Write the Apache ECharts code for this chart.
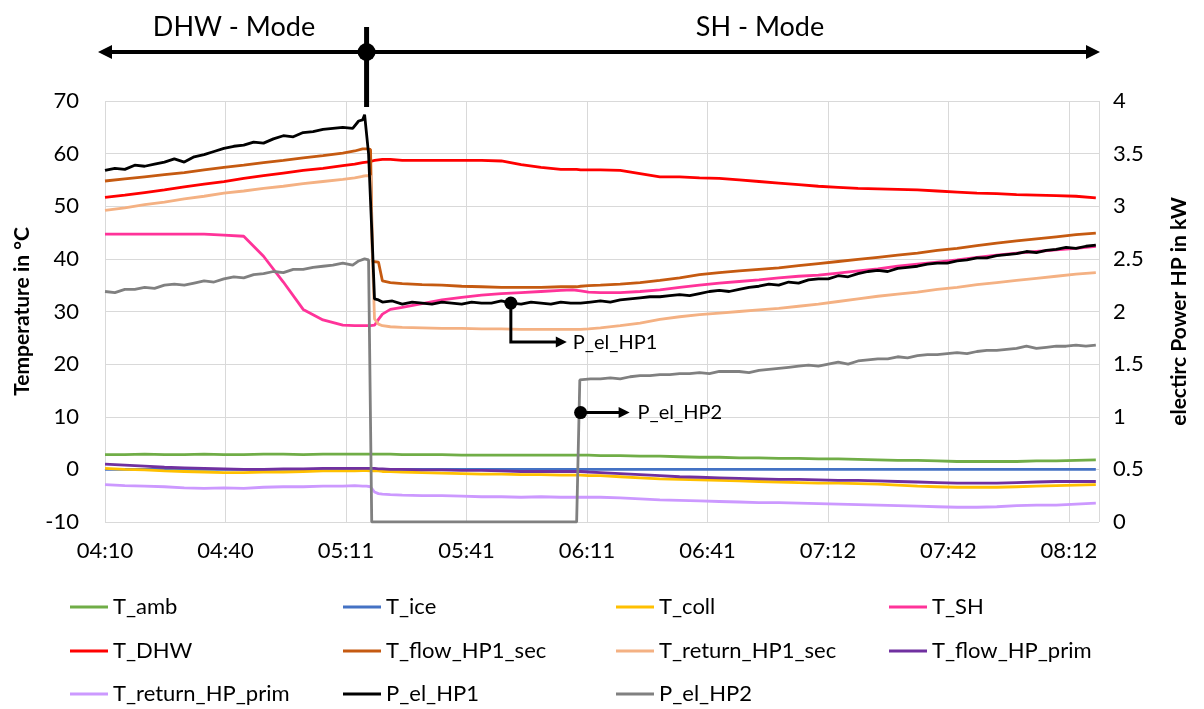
<!DOCTYPE html>
<html>
<head>
<meta charset="utf-8">
<script src="https://cdn.jsdelivr.net/npm/echarts@6/dist/echarts.min.js"></script>
<style>
html,body{margin:0;padding:0;background:#fff;}
#main{width:1204px;height:709px;}
</style>
</head>
<body>
<div id="main"></div>
<script>
// ---------- DATA (minutes after 04:10) ----------
const xTickLabels = ['04:10','04:40','05:11','05:41','06:11','06:41','07:12','07:42','08:12'];
const tickStep = 30.4;          // minutes between labelled ticks
const xMax = 250.8;             // end of recording (min)
const switchTime = 66;          // DHW -> SH mode switch (min)

const times = [0,5,10,15,20,25,30,35,40,45,50,55,60,63,65,66,67,67.5,68,69,70,72,75,80,85,90,95,100,105,110,115,118,119,120,122,125,130,135,140,145,150,155,160,165,170,175,180,185,190,195,200,205,210,215,220,225,230,235,240,245,250];

const T_amb = [2.8,2.8,2.9,2.8,2.8,2.9,2.8,2.8,2.9,2.9,2.8,2.9,2.9,2.9,2.9,2.9,2.9,2.9,2.9,2.9,2.9,2.9,2.8,2.8,2.8,2.7,2.7,2.7,2.7,2.7,2.7,2.7,2.7,2.7,2.7,2.6,2.6,2.5,2.5,2.4,2.3,2.3,2.2,2.2,2.1,2.1,2.0,2.0,1.9,1.8,1.7,1.7,1.6,1.5,1.5,1.5,1.5,1.6,1.6,1.7,1.8];
const T_ice = [0,0,0,0,0,0,0,0,0,0,0,0,0,0,0,0,0,0,0,0,0,0,0,0,0,0,0,0,0,0,0,0,0,0,0,0,0,0,0,0,0,0,0,0,0,0,0,0,0,0,0,0,0,0,0,0,0,0,0,0,0];
const T_coll = [0.2,0.0,-0.1,-0.3,-0.4,-0.5,-0.6,-0.6,-0.5,-0.5,-0.4,-0.3,-0.3,-0.3,-0.25,-0.25,-0.3,-0.3,-0.3,-0.3,-0.4,-0.4,-0.5,-0.6,-0.7,-0.8,-0.9,-0.9,-1.0,-1.0,-1.1,-1.1,-1.1,-1.1,-1.2,-1.2,-1.4,-1.6,-1.8,-1.9,-2.0,-2.1,-2.2,-2.3,-2.4,-2.5,-2.6,-2.6,-2.7,-2.8,-3.0,-3.2,-3.3,-3.4,-3.4,-3.4,-3.3,-3.2,-3.1,-3.0,-2.9];
const T_SH = [44.7,44.7,44.7,44.7,44.7,44.7,44.5,44.3,40.5,35.6,30.4,28.4,27.4,27.3,27.3,27.3,27.3,27.3,27.4,28.5,29.5,30.4,30.8,31.5,32.2,32.7,33.1,33.4,33.6,33.8,34.0,34.1,34.0,33.9,33.7,33.6,33.6,33.8,34.1,34.6,35.0,35.4,35.7,36.0,36.4,36.7,36.9,37.3,37.7,38.1,38.6,39.0,39.4,39.8,40.3,40.7,41.1,41.4,41.7,42.0,42.4];
const T_DHW = [51.7,52.1,52.6,53.1,53.7,54.2,54.7,55.3,55.8,56.3,56.8,57.2,57.7,58.0,58.3,58.4,58.5,58.6,58.7,58.8,58.9,58.9,58.7,58.7,58.7,58.7,58.7,58.6,57.9,57.4,57.0,57.0,57.0,56.9,56.9,56.9,56.8,56.2,55.6,55.6,55.4,55.3,55.0,54.7,54.4,54.1,53.8,53.6,53.4,53.3,53.2,53.1,52.9,52.7,52.5,52.4,52.2,52.1,52.0,51.9,51.6];
const T_flow_HP1_sec = [54.8,55.2,55.6,56.0,56.4,56.9,57.4,57.8,58.3,58.7,59.2,59.6,60.1,60.5,60.9,60.9,60.8,39.5,39.5,39.4,35.8,35.5,35.3,35.1,35.0,34.8,34.7,34.6,34.6,34.6,34.7,34.7,34.7,34.8,34.9,35.0,35.2,35.5,35.9,36.4,37.0,37.4,37.7,38.0,38.3,38.7,39.1,39.5,39.9,40.3,40.7,41.1,41.6,42.0,42.5,43.0,43.4,43.8,44.2,44.6,44.9];
const T_return_HP1_sec = [49.2,49.7,50.3,50.8,51.4,51.9,52.5,52.9,53.4,53.8,54.3,54.7,55.1,55.4,55.7,55.8,55.8,40.0,28.6,27.6,27.3,27.1,27.0,26.9,26.8,26.8,26.7,26.7,26.6,26.6,26.6,26.6,26.6,26.6,26.7,26.9,27.3,27.8,28.5,29.0,29.4,29.7,30.0,30.3,30.6,31.0,31.4,31.9,32.4,32.9,33.3,33.7,34.2,34.6,35.1,35.5,35.9,36.3,36.7,37.1,37.4];
const T_flow_HP_prim = [1.0,0.8,0.6,0.4,0.3,0.2,0.1,0.0,0.0,0.1,0.1,0.2,0.2,0.2,0.2,0.2,0.2,0.2,0.2,0.1,0.1,0.0,0.0,-0.1,-0.1,-0.2,-0.2,-0.3,-0.4,-0.4,-0.4,-0.4,-0.4,-0.4,-0.5,-0.6,-0.8,-1.0,-1.2,-1.4,-1.5,-1.6,-1.7,-1.8,-1.9,-1.9,-2.0,-2.1,-2.1,-2.2,-2.3,-2.4,-2.5,-2.6,-2.6,-2.6,-2.5,-2.4,-2.3,-2.3,-2.3];
const T_return_HP_prim = [-2.9,-3.1,-3.2,-3.3,-3.5,-3.6,-3.5,-3.6,-3.4,-3.3,-3.3,-3.2,-3.2,-3.1,-3.2,-3.2,-3.3,-3.5,-4.3,-4.6,-4.7,-4.8,-4.9,-5.0,-5.0,-5.1,-5.2,-5.2,-5.3,-5.2,-5.3,-5.3,-5.3,-5.3,-5.3,-5.3,-5.4,-5.6,-5.8,-5.9,-6.0,-6.1,-6.2,-6.3,-6.3,-6.4,-6.5,-6.6,-6.7,-6.8,-6.9,-7.0,-7.1,-7.2,-7.2,-7.1,-6.9,-6.8,-6.8,-6.6,-6.4];

const timesHP1 = [0,2.5,5,7.5,10,12.5,15,17.5,20,22.5,25,27.5,30,32.5,35,37.5,40,42.5,45,47.5,50,52.5,55,57.5,60,62.5,64,65,65.5,66,66.5,67,67.5,68,69,70,72.5,75,77.5,80,82.5,85,87.5,90,92.5,95,97.5,100,102.5,105,107.5,110,112.5,115,117.5,120,122.5,125,127.5,130,132.5,135,137.5,140,142.5,145,147.5,150,152.5,155,157.5,160,162.5,165,167.5,170,172.5,175,177.5,180,182.5,185,187.5,190,192.5,195,197.5,200,202.5,205,207.5,210,212.5,215,217.5,220,222.5,225,227.5,230,232.5,235,237.5,240,242.5,245,247.5,250];
const P_el_HP1 = [3.34,3.36,3.35,3.39,3.38,3.40,3.42,3.45,3.42,3.47,3.49,3.52,3.55,3.57,3.58,3.61,3.60,3.64,3.67,3.66,3.70,3.71,3.73,3.74,3.75,3.74,3.81,3.82,3.87,3.86,3.50,3.05,2.60,2.12,2.11,2.09,2.10,2.07,2.09,2.08,2.07,2.09,2.08,2.07,2.09,2.08,2.08,2.10,2.08,2.07,2.09,2.08,2.07,2.09,2.08,2.08,2.09,2.10,2.09,2.11,2.12,2.13,2.14,2.14,2.15,2.16,2.15,2.17,2.19,2.20,2.19,2.21,2.23,2.24,2.26,2.25,2.28,2.27,2.30,2.31,2.31,2.34,2.33,2.36,2.38,2.39,2.38,2.41,2.42,2.43,2.45,2.46,2.46,2.48,2.49,2.51,2.51,2.53,2.54,2.55,2.57,2.56,2.58,2.59,2.61,2.60,2.62,2.63];

const timesHP2 = [0,2.5,5,7.5,10,12.5,15,17.5,20,22.5,25,27.5,30,32.5,35,37.5,40,42.5,45,47.5,50,52.5,55,57.5,60,62.5,64,65.5,66.5,67.3,80,100,119,119.8,122.5,125,127.5,130,132.5,135,137.5,140,142.5,145,147.5,150,152.5,155,157.5,160,162.5,165,167.5,170,172.5,175,177.5,180,182.5,185,187.5,190,192.5,195,197.5,200,202.5,205,207.5,210,212.5,215,217.5,220,222.5,225,227.5,230,232.5,235,237.5,240,242.5,245,247.5,250];
const P_el_HP2 = [2.19,2.18,2.21,2.21,2.23,2.22,2.25,2.26,2.25,2.27,2.29,2.28,2.31,2.33,2.32,2.35,2.36,2.38,2.37,2.40,2.40,2.42,2.43,2.44,2.46,2.44,2.48,2.50,2.49,0,0,0,0,1.35,1.36,1.36,1.37,1.36,1.38,1.39,1.39,1.40,1.40,1.41,1.41,1.42,1.41,1.43,1.43,1.43,1.42,1.44,1.45,1.46,1.47,1.48,1.49,1.48,1.50,1.52,1.50,1.53,1.54,1.55,1.55,1.57,1.56,1.58,1.59,1.59,1.60,1.61,1.60,1.62,1.63,1.63,1.64,1.65,1.67,1.65,1.66,1.67,1.67,1.68,1.67,1.68];

// annotation anchors (data coords on power axis)
const hp1Label = {name:'P_el_HP1', t:102.4, p:2.08};
const hp2Label = {name:'P_el_HP2', t:120.0, p:1.04};

// ---------- CHART ----------
const FONT = 'Lato, "Open Sans", sans-serif';
const pair = (ts, vs) => ts.map((t, i) => [t, vs[i]]);

const seriesDefs = [
  ['T_amb', '#70AD47', times, T_amb, 0],
  ['T_ice', '#4472C4', times, T_ice, 0],
  ['T_coll', '#FFC000', times, T_coll, 0],
  ['T_SH', '#FF3399', times, T_SH, 0],
  ['T_DHW', '#FF0000', times, T_DHW, 0],
  ['T_flow_HP1_sec', '#C55A11', times, T_flow_HP1_sec, 0],
  ['T_return_HP1_sec', '#F4B183', times, T_return_HP1_sec, 0],
  ['T_flow_HP_prim', '#7030A0', times, T_flow_HP_prim, 0],
  ['T_return_HP_prim', '#CC99FF', times, T_return_HP_prim, 0],
  ['P_el_HP1', '#000000', timesHP1, P_el_HP1, 1],
  ['P_el_HP2', '#808080', timesHP2, P_el_HP2, 1]
];

// legend grid: 4 columns x 3 rows, filled row by row
const legendColX = [70, 343, 616, 889];
const legendRowY = [607, 651, 694];

const chart = echarts.init(document.getElementById('main'), null, {renderer: 'canvas'});

const option = {
  animation: false,
  backgroundColor: '#fff',
  grid: {left: 105, right: 105, top: 101, bottom: 187, containLabel: false, outerBoundsMode: 'none'},
  xAxis: {
    type: 'value', min: 0, max: xMax, interval: tickStep,
    axisLine: {show: true, lineStyle: {color: '#D9D9D9', width: 1}},
    axisTick: {show: false},
    splitLine: {show: true, lineStyle: {color: '#D9D9D9', width: 1}},
    axisLabel: {
      margin: 18, fontSize: 22, fontFamily: FONT, color: '#000',
      showMaxLabel: false,
      formatter: v => {
        const i = Math.round(v / tickStep);
        return (Math.abs(v - i * tickStep) < 0.05 && i < xTickLabels.length) ? xTickLabels[i] : '';
      }
    }
  },
  yAxis: [
    {
      type: 'value', min: -10, max: 70, interval: 10, position: 'left',
      name: 'Temperature in °C', nameLocation: 'middle', nameRotate: 90, nameGap: 72,
      nameTextStyle: {fontSize: 21, fontWeight: 'bold', fontFamily: FONT, color: '#000'},
      axisLine: {show: false}, axisTick: {show: false},
      splitLine: {show: true, lineStyle: {color: '#D9D9D9', width: 1}},
      axisLabel: {margin: 26, fontSize: 22, fontFamily: FONT, color: '#000'}
    },
    {
      type: 'value', min: 0, max: 4, interval: 0.5, position: 'right',
      name: 'electirc Power HP in kW', nameLocation: 'middle', nameRotate: 90, nameGap: 70,
      nameTextStyle: {fontSize: 21, fontWeight: 'bold', fontFamily: FONT, color: '#000'},
      axisLine: {show: false}, axisTick: {show: false},
      splitLine: {show: false},
      axisLabel: {margin: 14, fontSize: 22, fontFamily: FONT, color: '#000'}
    }
  ],
  legend: seriesDefs.map(([name], i) => ({
    orient: 'horizontal', padding: 0,
    left: legendColX[i % 4], top: legendRowY[Math.floor(i / 4)] - 12,
    data: [name], icon: 'rect', itemWidth: 38, itemHeight: 3,
    selectedMode: false,
    textStyle: {fontSize: 22, fontFamily: FONT, color: '#000', lineHeight: 24}
  })),
  series: seriesDefs.map(([name, color, ts, vs, yi]) => ({
    name, type: 'line', yAxisIndex: yi, color,
    data: pair(ts, vs), showSymbol: false, symbol: 'none',
    lineStyle: {width: 2.8, color}, emphasis: {disabled: true}
  }))
};
chart.setOption(option);

// ---------- ANNOTATIONS ----------
const X = t => chart.convertToPixel({xAxisIndex: 0}, t);
const YP = p => chart.convertToPixel({yAxisIndex: 1}, p);
const sx = X(switchTime);
const topY = 52;
const leftTip = 98, rightTip = 1100;
const g = [];
g.push({type: 'line', shape: {x1: leftTip + 10, y1: topY, x2: rightTip - 10, y2: topY}, style: {stroke: '#000', lineWidth: 4}});
g.push({type: 'polygon', shape: {points: [[leftTip, topY], [leftTip + 14, topY - 7], [leftTip + 14, topY + 7]]}, style: {fill: '#000'}});
g.push({type: 'polygon', shape: {points: [[rightTip, topY], [rightTip - 14, topY - 7], [rightTip - 14, topY + 7]]}, style: {fill: '#000'}});
g.push({type: 'line', shape: {x1: sx, y1: 27, x2: sx, y2: 107}, style: {stroke: '#000', lineWidth: 5}});
g.push({type: 'circle', shape: {cx: sx, cy: topY, r: 9}, style: {fill: '#000'}});
g.push({type: 'text', x: 234, y: 27, style: {text: 'DHW - Mode', font: '27px ' + FONT, fill: '#000', textAlign: 'center', textVerticalAlign: 'middle'}});
g.push({type: 'text', x: 760, y: 27, style: {text: 'SH - Mode', font: '27px ' + FONT, fill: '#000', textAlign: 'center', textVerticalAlign: 'middle'}});

function arrowLabel(a, drop, tipDx, textDx) {
  const ax = X(a.t), ay = YP(a.p);
  const ly = ay + drop;
  const tipX = ax + tipDx;
  const pts = drop ? [[ax, ay], [ax, ly], [tipX - 10, ly]] : [[ax, ay], [tipX - 10, ly]];
  g.push({type: 'polyline', shape: {points: pts}, style: {stroke: '#000', lineWidth: 3, fill: null}});
  g.push({type: 'polygon', shape: {points: [[tipX, ly], [tipX - 11, ly - 5.5], [tipX - 11, ly + 5.5]]}, style: {fill: '#000'}});
  g.push({type: 'circle', shape: {cx: ax, cy: ay, r: 6.5}, style: {fill: '#000'}});
  g.push({type: 'text', x: ax + textDx, y: ly, style: {text: a.name, font: '20px ' + FONT, fill: '#000', textAlign: 'left', textVerticalAlign: 'middle'}});
}
arrowLabel(hp1Label, 39, 56, 62);
arrowLabel(hp2Label, 0, 49, 57);

chart.setOption({graphic: g.map(e => Object.assign({z: 100, silent: true}, e))});
</script>
</body>
</html>
